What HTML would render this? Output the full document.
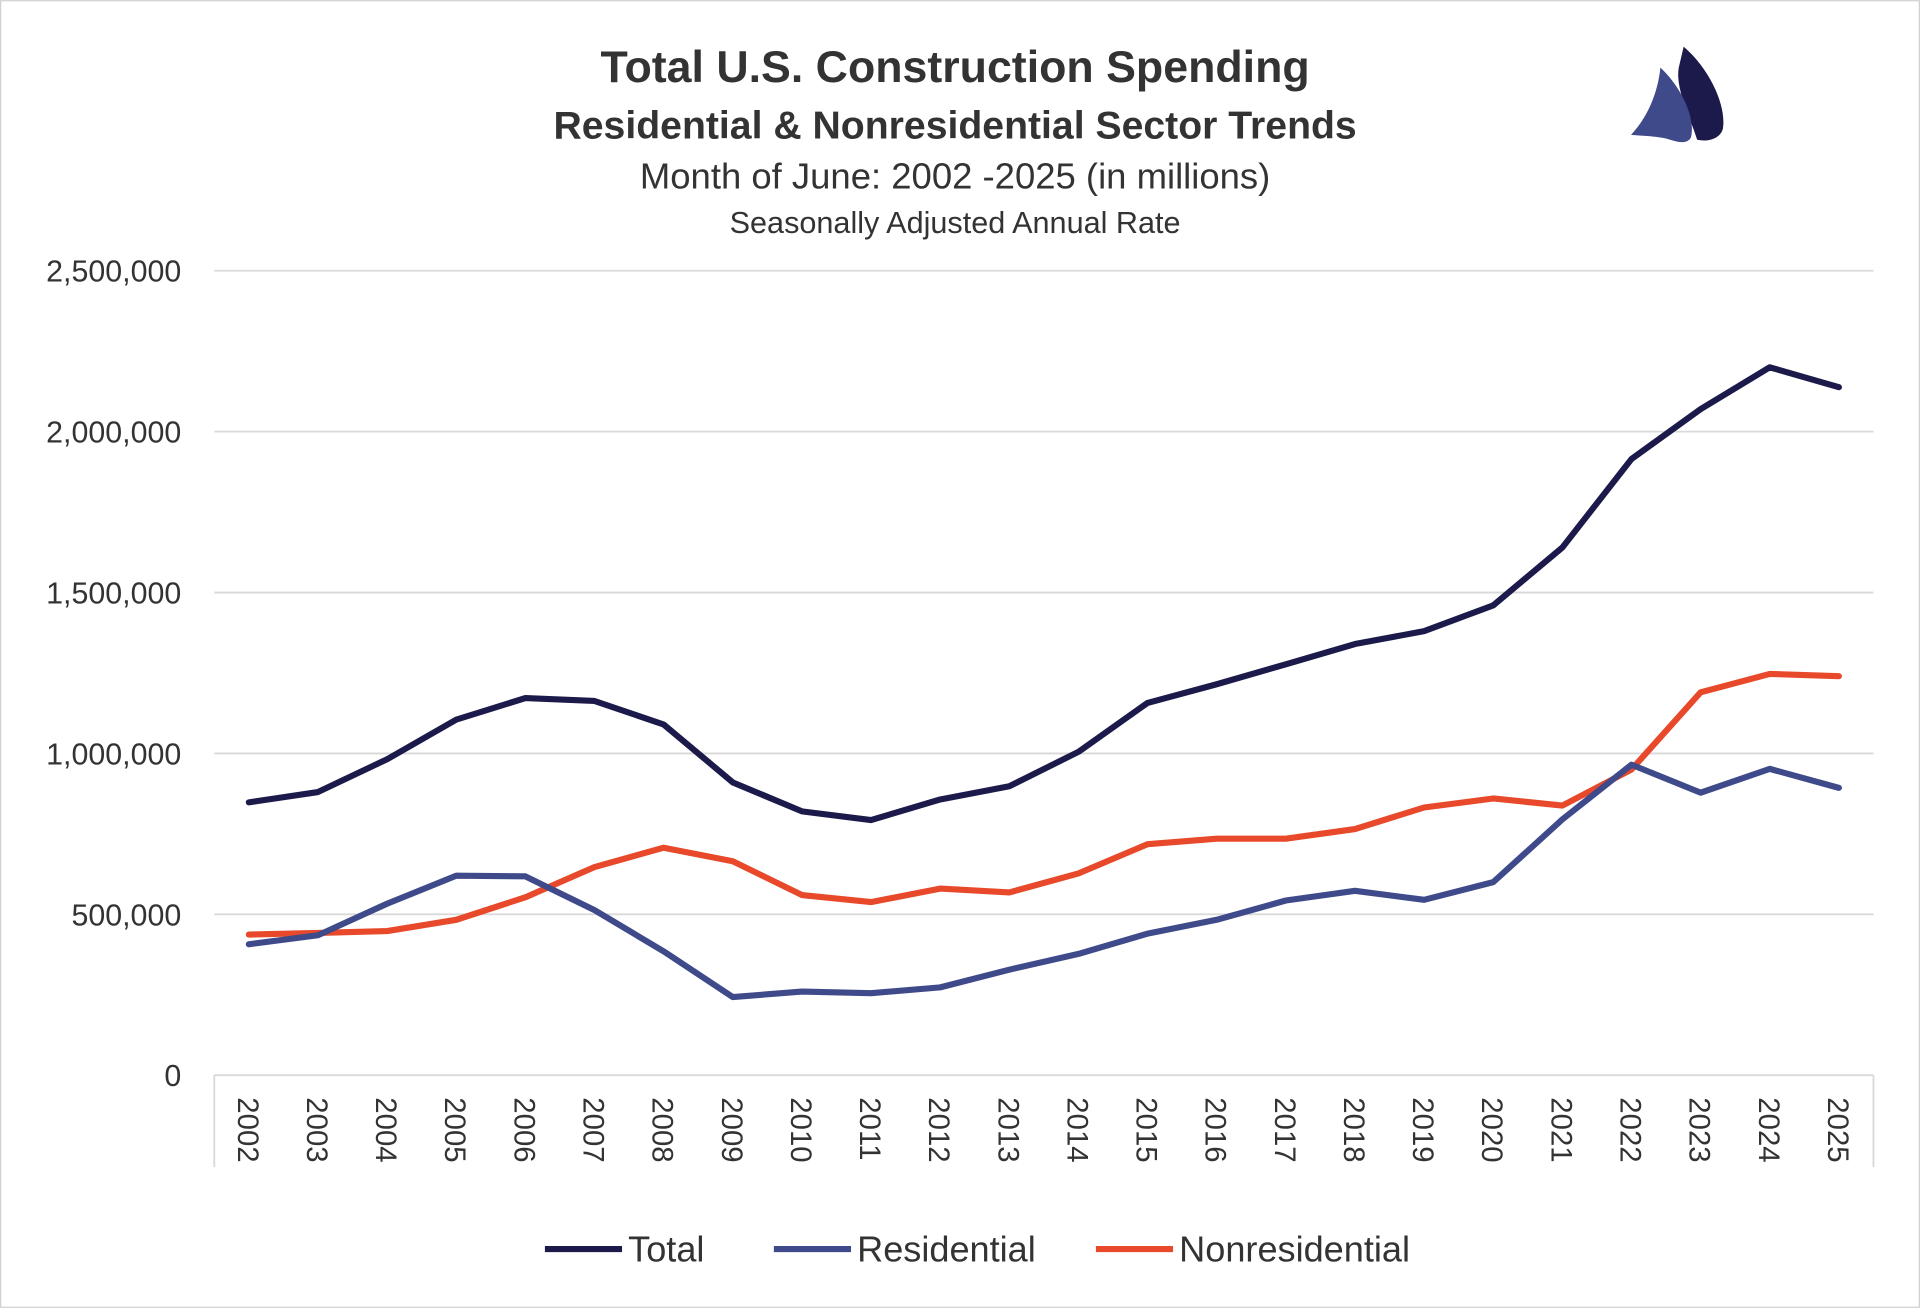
<!DOCTYPE html>
<html><head><meta charset="utf-8"><style>
html,body{margin:0;padding:0;background:#fff}
svg{display:block;font-family:"Liberation Sans",sans-serif}
</style></head><body>
<svg id="chart" width="1920" height="1308" viewBox="0 0 1568 1068" xmlns="http://www.w3.org/2000/svg">
<rect x="0.5" y="0.5" width="1567" height="1067" fill="#fff" stroke="#d0d0d0"/>
<text x="780" y="67" text-anchor="middle" font-size="36.5" font-weight="bold" fill="#333">Total U.S. Construction Spending</text>
<text x="780" y="113" text-anchor="middle" font-size="32" font-weight="bold" fill="#333">Residential &amp; Nonresidential Sector Trends</text>
<text x="780" y="154" text-anchor="middle" font-size="29.8" fill="#333">Month of June: 2002 -2025 (in millions)</text>
<text x="780" y="190" text-anchor="middle" font-size="25" fill="#333">Seasonally Adjusted Annual Rate</text>
<g>
<path d="M1375,38 C1398,58 1410,88 1407,105 C1405,113 1395,116 1386,114 C1380,95 1368,72 1371,55 Z" fill="#1c1a4a"/>
<path d="M1356,55 C1372,70 1385,95 1381,112 C1378,118 1370,116 1364,114 C1355,111 1342,111 1332,110 C1346,95 1354,75 1356,55 Z" fill="#3f4a8a"/>
</g>
<g id="grid"></g>
<g id="axes"></g>
<g id="series"></g>
<g>
<g><line x1="445" y1="1020" x2="508" y2="1020" stroke="#1c1a4a" stroke-width="5"/><text x="513" y="1030" font-size="29.5" fill="#333">Total</text></g>
<g><line x1="632" y1="1020" x2="695" y2="1020" stroke="#3f4a8a" stroke-width="5"/><text x="700" y="1030" font-size="29.5" fill="#333">Residential</text></g>
<g><line x1="895" y1="1020" x2="958" y2="1020" stroke="#e8492a" stroke-width="5"/><text x="963" y="1030" font-size="29.5" fill="#333">Nonresidential</text></g>
</g>
</svg>
<script>
const years = ["2002","2003","2004","2005","2006","2007","2008","2009","2010","2011","2012","2013","2014","2015","2016","2017","2018","2019","2020","2021","2022","2023","2024","2025"];
const totalValues = [848000,880000,982000,1105000,1172000,1163000,1090000,910000,820000,793000,857000,898000,1005000,1157000,1215000,1277000,1340000,1380000,1460000,1640000,1915000,2070000,2200000,2138000];
const residentialValues = [407000,435000,533000,620000,618000,513000,385000,243000,260000,255000,273000,328000,377000,440000,483000,543000,573000,545000,600000,795000,965000,878000,952000,893000];
const nonresidentialValues = [437000,442000,448000,483000,553000,647000,707000,665000,560000,538000,580000,568000,627000,718000,735000,735000,765000,832000,860000,838000,950000,1190000,1247000,1240000];
const yTicks = [0,500000,1000000,1500000,2000000,2500000];
const yTickLabels = ["0","500,000","1,000,000","1,500,000","2,000,000","2,500,000"];

const NS="http://www.w3.org/2000/svg";
const L=175,R=1530,T=221,B=878,YMAX=2500000;
const band=(R-L)/years.length;
const xPos=i=>L+band*(i+0.5);
const yPos=v=>B-(v/YMAX)*(B-T);
function mk(tag,attrs,parent){const e=document.createElementNS(NS,tag);for(const k in attrs)e.setAttribute(k,attrs[k]);parent.appendChild(e);return e;}
const grid=document.getElementById('grid'),axes=document.getElementById('axes'),series=document.getElementById('series');
yTicks.forEach((v,i)=>{
  if(v>0){const g=mk('line',{x1:L,x2:R,y1:yPos(v),y2:yPos(v),stroke:'#d9d9d9','stroke-width':1.5},grid);
  
  }
  const t=mk('text',{x:148,y:yPos(v)+9,'text-anchor':'end','font-size':24.8,fill:'#333'},axes);
  t.textContent=yTickLabels[i];
  
  
});
const ax=mk('line',{x1:L,x2:R,y1:B,y2:B,stroke:'#d9d9d9','stroke-width':1.5},axes);


[L,R].forEach(x=>{
  const tk=mk('line',{x1:x,x2:x,y1:B,y2:953,stroke:'#d9d9d9','stroke-width':1.5},axes);
  
  
});
years.forEach((y,i)=>{
  const t=mk('text',{x:0,y:0,'font-size':24,fill:'#333',transform:`translate(${xPos(i)-9},896) rotate(90)`},axes);
  t.textContent=y;
  
  
});
[[nonresidentialValues,'#e8492a','nonresidential-line'],[residentialValues,'#3f4a8a','residential-line'],[totalValues,'#1c1a4a','total-line']].forEach(([vals,c,n])=>{
  const p=mk('polyline',{points:vals.map((v,i)=>xPos(i)+','+yPos(v)).join(' '),fill:'none',stroke:c,'stroke-width':5,'stroke-linejoin':'round','stroke-linecap':'round'},series);
  
  
});
</script>
</body></html>
